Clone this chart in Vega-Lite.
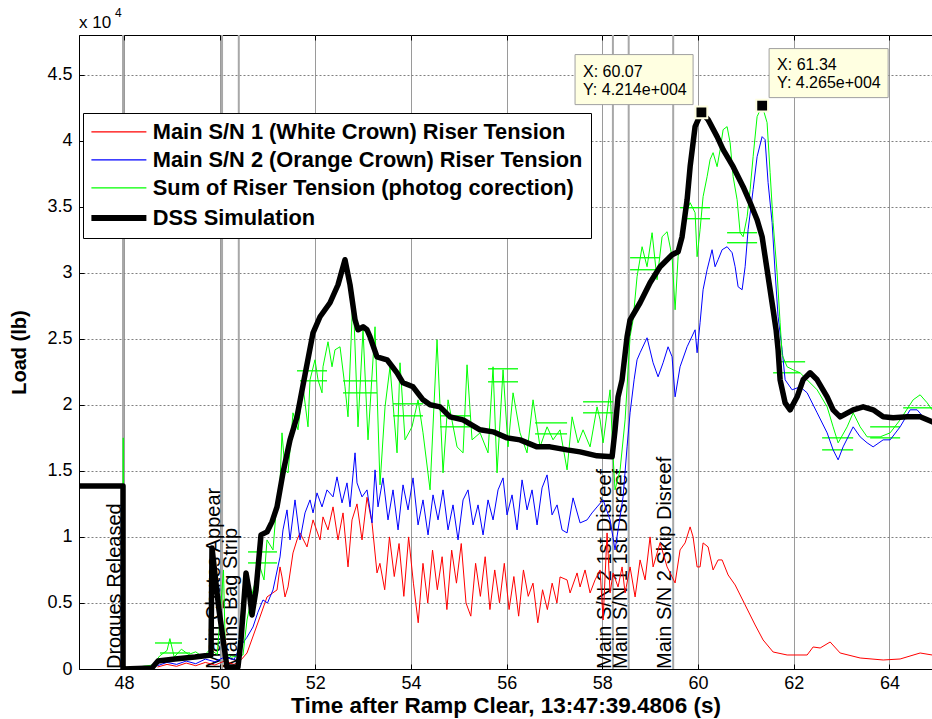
{
"$schema": "https://vega.github.io/schema/vega-lite/v6.json",
"width": 853, "height": 634,
"autosize": {"type": "none"},
"padding": {"left": 79, "top": 35, "right": 0, "bottom": 50},
"background": "white",
"config": {"view": {"stroke": "#000", "strokeWidth": 1}, "font": "Liberation Sans"},
"resolve": {"axis": {"x": "independent"}},
"datasets": {
"thin": [
{"s":"r","x":48.7,"y":150},{"s":"r","x":48.9,"y":350},{"s":"r","x":49.1,"y":200},{"s":"r","x":49.3,"y":450},{"s":"r","x":49.5,"y":250},{"s":"r","x":49.7,"y":500},{"s":"r","x":49.9,"y":300},{"s":"r","x":50.1,"y":600},{"s":"r","x":50.3,"y":350},{"s":"r","x":50.45,"y":700},
{"s":"r","x":50.572,"y":1212},{"s":"r","x":50.843,"y":3940},{"s":"r","x":50.99,"y":5455},{"s":"r","x":51.199,"y":5985},{"s":"r","x":51.262,"y":7728},{"s":"r","x":51.303,"y":6970},{"s":"r","x":51.366,"y":5455},{"s":"r","x":51.429,"y":6212},{"s":"r","x":51.533,"y":8788},{"s":"r","x":51.617,"y":9773},{"s":"r","x":51.68,"y":10303},{"s":"r","x":51.826,"y":9243},{"s":"r","x":51.952,"y":11288},{"s":"r","x":52.098,"y":9773},{"s":"r","x":52.16,"y":11516},{"s":"r","x":52.265,"y":10531},{"s":"r","x":52.37,"y":12273},{"s":"r","x":52.474,"y":9773},{"s":"r","x":52.579,"y":11819},{"s":"r","x":52.683,"y":7728},{"s":"r","x":52.767,"y":11288},{"s":"r","x":52.871,"y":12500},{"s":"r","x":52.976,"y":9773},{"s":"r","x":53.08,"y":13000},{"s":"r","x":53.185,"y":11061},{"s":"r","x":53.289,"y":7273},
{"s":"r","x":53.35,"y":8000},{"s":"r","x":53.45,"y":6000},{"s":"r","x":53.55,"y":10000},{"s":"r","x":53.65,"y":7000},{"s":"r","x":53.75,"y":9500},{"s":"r","x":53.85,"y":5500},{"s":"r","x":53.95,"y":10000},{"s":"r","x":54.05,"y":6500},{"s":"r","x":54.15,"y":3500},{"s":"r","x":54.25,"y":8000},{"s":"r","x":54.35,"y":5000},{"s":"r","x":54.45,"y":9000},{"s":"r","x":54.55,"y":6000},{"s":"r","x":54.65,"y":8500},{"s":"r","x":54.75,"y":4500},{"s":"r","x":54.85,"y":9000},{"s":"r","x":54.95,"y":6500},{"s":"r","x":55.05,"y":9500},{"s":"r","x":55.15,"y":5000},{"s":"r","x":55.25,"y":4000},{"s":"r","x":55.35,"y":8000},{"s":"r","x":55.45,"y":5500},{"s":"r","x":55.55,"y":8500},{"s":"r","x":55.65,"y":4500},{"s":"r","x":55.75,"y":7500},{"s":"r","x":55.85,"y":5000},{"s":"r","x":55.95,"y":8000},{"s":"r","x":56.05,"y":4500},{"s":"r","x":56.15,"y":7000},{"s":"r","x":56.25,"y":4000},{"s":"r","x":56.35,"y":7500},{"s":"r","x":56.45,"y":5500},{"s":"r","x":56.55,"y":6500},{"s":"r","x":56.65,"y":3500},{"s":"r","x":56.75,"y":6000},{"s":"r","x":56.85,"y":4500},{"s":"r","x":56.95,"y":6500},{"s":"r","x":57.05,"y":5000},
{"s":"r","x":57.115,"y":6970},{"s":"r","x":57.262,"y":6743},{"s":"r","x":57.325,"y":5758},{"s":"r","x":57.471,"y":7273},{"s":"r","x":57.534,"y":6212},{"s":"r","x":57.638,"y":7500},{"s":"r","x":57.743,"y":5758},{"s":"r","x":57.847,"y":6743},{"s":"r","x":57.952,"y":7500},{"s":"r","x":58.015,"y":3712},{"s":"r","x":58.098,"y":10303},{"s":"r","x":58.161,"y":5758},{"s":"r","x":58.224,"y":7273},{"s":"r","x":58.328,"y":6212},{"s":"r","x":58.412,"y":7728},{"s":"r","x":58.475,"y":5758},{"s":"r","x":58.579,"y":7728},{"s":"r","x":58.684,"y":5455},{"s":"r","x":58.788,"y":8258},{"s":"r","x":58.893,"y":6743},{"s":"r","x":58.997,"y":10000},{"s":"r","x":59.06,"y":7728},{"s":"r","x":59.206,"y":9546},{"s":"r","x":59.353,"y":7728},{"s":"r","x":59.52,"y":6515},{"s":"r","x":59.624,"y":9015},{"s":"r","x":59.729,"y":9546},{"s":"r","x":59.834,"y":10758},{"s":"r","x":59.896,"y":10000},{"s":"r","x":59.98,"y":7728},{"s":"r","x":60.042,"y":7728},{"s":"r","x":60.105,"y":9546},{"s":"r","x":60.21,"y":9243},{"s":"r","x":60.314,"y":7500},{"s":"r","x":60.419,"y":8258},{"s":"r","x":60.503,"y":8258},{"s":"r","x":60.628,"y":7121},{"s":"r","x":60.775,"y":6364},{"s":"r","x":60.984,"y":4849},{"s":"r","x":61.193,"y":3333},{"s":"r","x":61.36,"y":2197},{"s":"r","x":61.569,"y":1288},{"s":"r","x":61.862,"y":1061},{"s":"r","x":62.28,"y":1061},{"s":"r","x":62.405,"y":1667},{"s":"r","x":62.552,"y":1591},{"s":"r","x":62.761,"y":2045},{"s":"r","x":62.97,"y":1212},{"s":"r","x":63.388,"y":833},{"s":"r","x":63.869,"y":682},{"s":"r","x":64.224,"y":758},{"s":"r","x":64.642,"y":1212},{"s":"r","x":64.893,"y":1061},
{"s":"b","x":48.7,"y":250},{"s":"b","x":48.9,"y":500},{"s":"b","x":49.1,"y":350},{"s":"b","x":49.3,"y":600},{"s":"b","x":49.5,"y":400},{"s":"b","x":49.7,"y":750},{"s":"b","x":49.9,"y":550},{"s":"b","x":50.1,"y":900},{"s":"b","x":50.3,"y":700},{"s":"b","x":50.425,"y":1667},{"s":"b","x":50.57,"y":2400},{"s":"b","x":50.697,"y":3182},{"s":"b","x":50.8,"y":4300},{"s":"b","x":50.906,"y":5227},{"s":"b","x":51.0,"y":5000},{"s":"b","x":51.115,"y":5985},{"s":"b","x":51.262,"y":8485},{"s":"b","x":51.324,"y":10531},{"s":"b","x":51.408,"y":12046},{"s":"b","x":51.471,"y":9773},{"s":"b","x":51.575,"y":12803},{"s":"b","x":51.68,"y":9773},{"s":"b","x":51.784,"y":11819},{"s":"b","x":51.889,"y":12803},{"s":"b","x":51.952,"y":11819},{"s":"b","x":52.035,"y":13334},{"s":"b","x":52.14,"y":12273},{"s":"b","x":52.244,"y":13561},{"s":"b","x":52.37,"y":13031},{"s":"b","x":52.453,"y":14546},{"s":"b","x":52.558,"y":12576},{"s":"b","x":52.662,"y":14091},{"s":"b","x":52.725,"y":12273},{"s":"b","x":52.83,"y":16364},{"s":"b","x":52.871,"y":14091},{"s":"b","x":52.976,"y":13031},{"s":"b","x":53.08,"y":13561},{"s":"b","x":53.185,"y":11061},{"s":"b","x":53.248,"y":15076},{"s":"b","x":53.31,"y":12273},
{"s":"b","x":53.415,"y":14470},{"s":"b","x":53.519,"y":11288},{"s":"b","x":53.624,"y":13561},{"s":"b","x":53.729,"y":10531},{"s":"b","x":53.833,"y":13940},{"s":"b","x":53.938,"y":12046},{"s":"b","x":54.042,"y":14470},{"s":"b","x":54.147,"y":10909},{"s":"b","x":54.251,"y":12803},{"s":"b","x":54.356,"y":10152},{"s":"b","x":54.46,"y":13182},{"s":"b","x":54.565,"y":11288},{"s":"b","x":54.669,"y":13561},{"s":"b","x":54.774,"y":10531},{"s":"b","x":54.878,"y":12425},{"s":"b","x":54.983,"y":9773},{"s":"b","x":55.088,"y":12803},{"s":"b","x":55.192,"y":13561},{"s":"b","x":55.297,"y":10909},{"s":"b","x":55.401,"y":12425},{"s":"b","x":55.506,"y":10152},{"s":"b","x":55.61,"y":12803},{"s":"b","x":55.715,"y":11288},{"s":"b","x":55.819,"y":13561},{"s":"b","x":55.924,"y":14470},{"s":"b","x":56.007,"y":11667},{"s":"b","x":56.112,"y":13182},{"s":"b","x":56.217,"y":10531},{"s":"b","x":56.321,"y":14318},{"s":"b","x":56.426,"y":12046},{"s":"b","x":56.53,"y":13561},{"s":"b","x":56.635,"y":10909},{"s":"b","x":56.739,"y":13713},{"s":"b","x":56.844,"y":14697},{"s":"b","x":56.948,"y":11667},{"s":"b","x":57.053,"y":12425},{"s":"b","x":57.157,"y":10531},{"s":"b","x":57.262,"y":10303},{"s":"b","x":57.387,"y":12955},{"s":"b","x":57.534,"y":11061},{"s":"b","x":57.68,"y":11288},{"s":"b","x":57.784,"y":11819},{"s":"b","x":57.889,"y":12273},{"s":"b","x":58.015,"y":12803},{"s":"b","x":58.161,"y":11288},{"s":"b","x":58.265,"y":9015},{"s":"b","x":58.328,"y":10531},{"s":"b","x":58.433,"y":13031},{"s":"b","x":58.516,"y":16819},{"s":"b","x":58.579,"y":19395},{"s":"b","x":58.663,"y":21895},{"s":"b","x":58.725,"y":23410},{"s":"b","x":58.788,"y":23940},{"s":"b","x":58.934,"y":25077},{"s":"b","x":59.06,"y":23183},{"s":"b","x":59.164,"y":22122},{"s":"b","x":59.269,"y":23183},{"s":"b","x":59.373,"y":24395},{"s":"b","x":59.457,"y":23637},{"s":"b","x":59.52,"y":20607},{"s":"b","x":59.624,"y":22880},{"s":"b","x":59.771,"y":24395},{"s":"b","x":59.938,"y":25682},{"s":"b","x":59.98,"y":23940},{"s":"b","x":60.042,"y":26213},{"s":"b","x":60.105,"y":28713},{"s":"b","x":60.189,"y":30228},{"s":"b","x":60.293,"y":31743},{"s":"b","x":60.356,"y":30456},{"s":"b","x":60.419,"y":30986},{"s":"b","x":60.503,"y":31743},{"s":"b","x":60.607,"y":31971},{"s":"b","x":60.712,"y":31516},{"s":"b","x":60.775,"y":30456},{"s":"b","x":60.837,"y":28940},{"s":"b","x":60.921,"y":28713},{"s":"b","x":60.984,"y":30456},{"s":"b","x":61.046,"y":33259},{"s":"b","x":61.151,"y":36289},{"s":"b","x":61.234,"y":38789},{"s":"b","x":61.339,"y":40304},{"s":"b","x":61.401,"y":40077},{"s":"b","x":61.464,"y":36819},{"s":"b","x":61.548,"y":33789},{"s":"b","x":61.611,"y":30001},{"s":"b","x":61.673,"y":26668},{"s":"b","x":61.757,"y":24167},{"s":"b","x":61.82,"y":21895},{"s":"b","x":61.966,"y":21137},{"s":"b","x":62.133,"y":21364},{"s":"b","x":62.28,"y":20910},{"s":"b","x":62.489,"y":19395},{"s":"b","x":62.698,"y":17879},{"s":"b","x":62.823,"y":16591},{"s":"b","x":62.928,"y":15834},{"s":"b","x":63.032,"y":16819},{"s":"b","x":63.242,"y":18334},{"s":"b","x":63.388,"y":17576},{"s":"b","x":63.534,"y":17122},{"s":"b","x":63.66,"y":16819},{"s":"b","x":63.869,"y":17349},{"s":"b","x":64.015,"y":17349},{"s":"b","x":64.224,"y":18334},{"s":"b","x":64.433,"y":19622},{"s":"b","x":64.579,"y":19622},{"s":"b","x":64.705,"y":19092},{"s":"b","x":64.893,"y":18637},
{"s":"g","x":47.975,"y":0},{"s":"g","x":47.985,"y":17500},{"s":"g","x":47.995,"y":0},{"s":"g","x":48.6,"y":300},{"s":"g","x":48.75,"y":1000},{"s":"g","x":48.9,"y":1400},{"s":"g","x":48.96,"y":2300},{"s":"g","x":49.05,"y":900},{"s":"g","x":49.2,"y":1500},{"s":"g","x":49.35,"y":1100},{"s":"g","x":49.5,"y":1300},{"s":"g","x":49.65,"y":900},{"s":"g","x":49.8,"y":1500},{"s":"g","x":49.95,"y":1100},{"s":"g","x":50.08,"y":7500},{"s":"g","x":50.12,"y":1200},{"s":"g","x":50.25,"y":900},{"s":"g","x":50.38,"y":1000},{"s":"g","x":50.488,"y":1061},{"s":"g","x":50.572,"y":3712},{"s":"g","x":50.697,"y":5985},{"s":"g","x":50.843,"y":7728},{"s":"g","x":50.927,"y":6743},{"s":"g","x":50.99,"y":9773},{"s":"g","x":51.115,"y":9015},{"s":"g","x":51.199,"y":12803},{"s":"g","x":51.262,"y":14091},{"s":"g","x":51.303,"y":17879},{"s":"g","x":51.366,"y":15076},{"s":"g","x":51.429,"y":14849},{"s":"g","x":51.471,"y":16591},{"s":"g","x":51.533,"y":19395},{"s":"g","x":51.638,"y":18107},{"s":"g","x":51.742,"y":21364},{"s":"g","x":51.847,"y":18334},{"s":"g","x":51.889,"y":21895},{"s":"g","x":51.993,"y":23410},{"s":"g","x":52.056,"y":21895},{"s":"g","x":52.14,"y":20910},{"s":"g","x":52.16,"y":22880},{"s":"g","x":52.265,"y":24774},{"s":"g","x":52.349,"y":22880},{"s":"g","x":52.411,"y":24167},{"s":"g","x":52.516,"y":24395},{"s":"g","x":52.62,"y":21364},{"s":"g","x":52.683,"y":19092},{"s":"g","x":52.788,"y":28486},{"s":"g","x":52.892,"y":18334},{"s":"g","x":52.997,"y":25682},{"s":"g","x":53.101,"y":17349},{"s":"g","x":53.248,"y":25910},{"s":"g","x":53.352,"y":13940},{"s":"g","x":53.457,"y":19849},{"s":"g","x":53.561,"y":22880},{"s":"g","x":53.708,"y":16364},{"s":"g","x":53.77,"y":23183},{"s":"g","x":53.875,"y":17349},{"s":"g","x":54.021,"y":18334},{"s":"g","x":54.147,"y":20379},{"s":"g","x":54.251,"y":17879},{"s":"g","x":54.398,"y":13561},{"s":"g","x":54.544,"y":24925},{"s":"g","x":54.669,"y":14849},{"s":"g","x":54.774,"y":20379},{"s":"g","x":54.962,"y":16819},{"s":"g","x":55.088,"y":16364},{"s":"g","x":55.171,"y":23031},{"s":"g","x":55.276,"y":17349},{"s":"g","x":55.443,"y":17879},{"s":"g","x":55.61,"y":16364},{"s":"g","x":55.715,"y":22880},{"s":"g","x":55.798,"y":14849},{"s":"g","x":55.924,"y":22652},{"s":"g","x":56.028,"y":16819},{"s":"g","x":56.133,"y":20910},{"s":"g","x":56.279,"y":17879},{"s":"g","x":56.425,"y":16364},{"s":"g","x":56.551,"y":20379},{"s":"g","x":56.697,"y":16819},{"s":"g","x":56.844,"y":18334},{"s":"g","x":56.969,"y":17349},{"s":"g","x":57.115,"y":18107},{"s":"g","x":57.262,"y":15076},{"s":"g","x":57.367,"y":19092},{"s":"g","x":57.492,"y":17122},{"s":"g","x":57.596,"y":18107},{"s":"g","x":57.743,"y":16819},{"s":"g","x":57.889,"y":19849},{"s":"g","x":57.952,"y":18864},{"s":"g","x":58.015,"y":17122},{"s":"g","x":58.161,"y":21137},{"s":"g","x":58.224,"y":16061},{"s":"g","x":58.265,"y":13561},{"s":"g","x":58.37,"y":15076},{"s":"g","x":58.475,"y":18864},{"s":"g","x":58.579,"y":25152},{"s":"g","x":58.642,"y":26440},{"s":"g","x":58.725,"y":29698},{"s":"g","x":58.83,"y":31971},{"s":"g","x":58.934,"y":30456},{"s":"g","x":59.039,"y":33031},{"s":"g","x":59.143,"y":29471},{"s":"g","x":59.248,"y":32728},{"s":"g","x":59.353,"y":33107},{"s":"g","x":59.457,"y":31213},{"s":"g","x":59.52,"y":27198},{"s":"g","x":59.583,"y":31213},{"s":"g","x":59.687,"y":34016},{"s":"g","x":59.834,"y":35304},{"s":"g","x":59.938,"y":34546},{"s":"g","x":59.98,"y":31213},{"s":"g","x":60.042,"y":33259},{"s":"g","x":60.105,"y":35759},{"s":"g","x":60.189,"y":37274},{"s":"g","x":60.251,"y":38562},{"s":"g","x":60.314,"y":39092},{"s":"g","x":60.398,"y":38032},{"s":"g","x":60.461,"y":39319},{"s":"g","x":60.524,"y":40834},{"s":"g","x":60.607,"y":41062},{"s":"g","x":60.67,"y":39850},{"s":"g","x":60.733,"y":37274},{"s":"g","x":60.816,"y":35531},{"s":"g","x":60.879,"y":33031},{"s":"g","x":60.942,"y":32728},{"s":"g","x":61.026,"y":34244},{"s":"g","x":61.088,"y":36289},{"s":"g","x":61.151,"y":38789},{"s":"g","x":61.234,"y":41820},{"s":"g","x":61.34,"y":42650},{"s":"g","x":61.443,"y":41365},{"s":"g","x":61.506,"y":37577},{"s":"g","x":61.569,"y":33789},{"s":"g","x":61.652,"y":30001},{"s":"g","x":61.715,"y":26213},{"s":"g","x":61.757,"y":23789},{"s":"g","x":61.862,"y":22880},{"s":"g","x":61.987,"y":22652},{"s":"g","x":62.133,"y":22425},{"s":"g","x":62.28,"y":21895},{"s":"g","x":62.489,"y":21137},{"s":"g","x":62.698,"y":19849},{"s":"g","x":62.823,"y":18334},{"s":"g","x":62.928,"y":17122},{"s":"g","x":63.116,"y":18334},{"s":"g","x":63.242,"y":19395},{"s":"g","x":63.388,"y":18334},{"s":"g","x":63.534,"y":17576},{"s":"g","x":63.806,"y":17576},{"s":"g","x":64.015,"y":17879},{"s":"g","x":64.224,"y":18864},{"s":"g","x":64.496,"y":20379},{"s":"g","x":64.642,"y":20758},{"s":"g","x":64.789,"y":20152},{"s":"g","x":64.893,"y":19622}
],
"dss": [
{"s":"k","x":47.06,"y":13860},{"s":"k","x":47.98,"y":13860},{"s":"k","x":47.981,"y":0},{"s":"k","x":48.585,"y":80},{"s":"k","x":48.711,"y":606},{"s":"k","x":49.066,"y":758},{"s":"k","x":49.484,"y":909},{"s":"k","x":49.819,"y":1061},{"s":"k","x":49.84,"y":9167},{"s":"k","x":49.986,"y":4470},{"s":"k","x":50.153,"y":150},{"s":"k","x":50.383,"y":150},{"s":"k","x":50.446,"y":2197},{"s":"k","x":50.551,"y":7273},{"s":"k","x":50.613,"y":5985},{"s":"k","x":50.676,"y":4091},{"s":"k","x":50.76,"y":5985},{"s":"k","x":50.864,"y":10152},{"s":"k","x":50.99,"y":10379},{"s":"k","x":51.094,"y":11137},{"s":"k","x":51.199,"y":12273},{"s":"k","x":51.324,"y":14849},{"s":"k","x":51.471,"y":17349},{"s":"k","x":51.617,"y":19092},{"s":"k","x":51.784,"y":22273},{"s":"k","x":51.952,"y":25455},{"s":"k","x":52.098,"y":26668},{"s":"k","x":52.307,"y":27728},{"s":"k","x":52.474,"y":29092},{"s":"k","x":52.62,"y":30986},{"s":"k","x":52.725,"y":29092},{"s":"k","x":52.83,"y":26440},{"s":"k","x":52.892,"y":25682},{"s":"k","x":52.997,"y":25910},{"s":"k","x":53.08,"y":25682},{"s":"k","x":53.143,"y":25152},{"s":"k","x":53.289,"y":23637},{"s":"k","x":53.499,"y":23410},{"s":"k","x":53.708,"y":22425},{"s":"k","x":53.833,"y":21667},{"s":"k","x":54.042,"y":21364},{"s":"k","x":54.251,"y":20379},{"s":"k","x":54.398,"y":20001},{"s":"k","x":54.607,"y":19849},{"s":"k","x":54.816,"y":19092},{"s":"k","x":55.088,"y":18864},{"s":"k","x":55.443,"y":18107},{"s":"k","x":55.715,"y":17955},{"s":"k","x":56.007,"y":17500},{"s":"k","x":56.279,"y":17349},{"s":"k","x":56.635,"y":16819},{"s":"k","x":56.906,"y":16819},{"s":"k","x":57.262,"y":16591},{"s":"k","x":57.534,"y":16440},{"s":"k","x":57.889,"y":16137},{"s":"k","x":58.203,"y":16061},{"s":"k","x":58.265,"y":18107},{"s":"k","x":58.328,"y":20607},{"s":"k","x":58.412,"y":21895},{"s":"k","x":58.516,"y":25152},{"s":"k","x":58.579,"y":26440},{"s":"k","x":58.788,"y":27728},{"s":"k","x":58.997,"y":29243},{"s":"k","x":59.206,"y":30456},{"s":"k","x":59.457,"y":31365},{"s":"k","x":59.583,"y":31592},{"s":"k","x":59.666,"y":32728},{"s":"k","x":59.771,"y":35531},{"s":"k","x":59.834,"y":38032},{"s":"k","x":59.938,"y":41062},{"s":"k","x":60.07,"y":42140},{"s":"k","x":60.21,"y":41592},{"s":"k","x":60.398,"y":40304},{"s":"k","x":60.524,"y":39319},{"s":"k","x":60.733,"y":38032},{"s":"k","x":60.942,"y":36516},{"s":"k","x":61.088,"y":35304},{"s":"k","x":61.234,"y":34016},{"s":"k","x":61.339,"y":32728},{"s":"k","x":61.443,"y":30228},{"s":"k","x":61.506,"y":28713},{"s":"k","x":61.569,"y":27198},{"s":"k","x":61.631,"y":25682},{"s":"k","x":61.673,"y":24167},{"s":"k","x":61.715,"y":21895},{"s":"k","x":61.82,"y":20152},{"s":"k","x":61.924,"y":19622},{"s":"k","x":62.071,"y":20607},{"s":"k","x":62.196,"y":21895},{"s":"k","x":62.342,"y":22425},{"s":"k","x":62.489,"y":21895},{"s":"k","x":62.698,"y":20607},{"s":"k","x":62.823,"y":19622},{"s":"k","x":62.97,"y":19092},{"s":"k","x":63.242,"y":19622},{"s":"k","x":63.451,"y":19849},{"s":"k","x":63.66,"y":19622},{"s":"k","x":63.869,"y":19092},{"s":"k","x":64.078,"y":19016},{"s":"k","x":64.37,"y":19092},{"s":"k","x":64.642,"y":19092},{"s":"k","x":64.893,"y":18713}
],
"evt": [
{"x":47.98,"y":0,"label":"Drogues Released"},{"x":50.05,"y":0,"label":"Main Chutes Appear"},{"x":50.40,"y":0,"label":"Mains Bag Strip"},{"x":58.22,"y":0,"label":"Main S/N 2 1st Disreef"},{"x":58.55,"y":0,"label":"Main S/N 1 1st Disreef"},{"x":59.48,"y":0,"label":"Main S/N 2 Skip Disreef"}
],
"photog": [
{"x":48.648,"x2":49.213,"y":1970},{"x":48.753,"x2":49.38,"y":1212},{"x":50.593,"x2":51.199,"y":8864},{"x":50.593,"x2":51.199,"y":8031},{"x":51.617,"x2":52.244,"y":22576},{"x":51.68,"x2":52.244,"y":21819},{"x":52.579,"x2":53.289,"y":21819},{"x":52.579,"x2":53.289,"y":20910},{"x":53.624,"x2":54.251,"y":20076},{"x":53.624,"x2":54.251,"y":19167},{"x":54.607,"x2":55.234,"y":19167},{"x":54.607,"x2":55.234,"y":18334},{"x":55.61,"x2":56.237,"y":22728},{"x":55.61,"x2":56.237,"y":21743},{"x":56.593,"x2":57.262,"y":18637},{"x":56.593,"x2":57.262,"y":17804},{"x":57.596,"x2":58.224,"y":20228},{"x":57.596,"x2":58.224,"y":19395},{"x":58.579,"x2":59.206,"y":31137},{"x":58.579,"x2":59.143,"y":30228},{"x":59.625,"x2":60.251,"y":34925},{"x":59.771,"x2":60.251,"y":34092},{"x":60.607,"x2":61.234,"y":33031},{"x":60.607,"x2":61.234,"y":32274},{"x":61.715,"x2":62.238,"y":23259},{"x":61.569,"x2":62.133,"y":22425},{"x":62.593,"x2":63.242,"y":17500},{"x":62.593,"x2":63.242,"y":16591},{"x":63.597,"x2":64.224,"y":18334},{"x":63.597,"x2":64.224,"y":17500},{"x":64.287,"x2":64.893,"y":19773}
],
"tips": [{"x":60.07,"y":42140},{"x":61.34,"y":42650}],
"boxes": [{"x":57.429,"x2":59.896,"y":46517,"y2":42729},{"x":61.485,"x2":63.973,"y":46971,"y2":43259}],
"boxtext": [{"x":57.596,"y":45229,"t":"X: 60.07"},{"x":57.596,"y":43865,"t":"Y: 4.214e+004"},{"x":61.652,"y":45759,"t":"X: 61.34"},{"x":61.652,"y":44395,"t":"Y: 4.265e+004"}],
"expo": [{"x":47.06,"y":48000,"t":"x 10","e":"4"}]
},
"encoding": {
"x": {"field": "x", "type": "quantitative", "scale": {"domain": [47.06, 64.89], "nice": false, "zero": false}, "axis": null},
"y": {"field": "y", "type": "quantitative", "scale": {"domain": [0, 48000], "nice": false, "zero": false},
 "axis": {"values": [0,5000,10000,15000,20000,25000,30000,35000,40000,45000], "labelExpr": "datum.value / 10000 + ''", "title": "Load (lb)", "titleFont": "Liberation Sans", "titleFontSize": 20, "titleFontWeight": "bold", "titleColor": "#000", "titlePadding": 17,
  "labelFont": "Liberation Sans", "labelFontSize": 18, "labelColor": "#000", "labelPadding": 12, "labelFlush": false, "labelOverlap": false,
  "tickSize": -5, "tickColor": "#000", "domainColor": "#000", "grid": true, "gridColor": "#808080", "gridDash": [2, 2], "gridWidth": 1}}
},
"layer": [
{"data": {"name": "evt"}, "mark": {"type": "rule", "color": "#a8a8a8", "strokeWidth": 2},
 "encoding": {
  "x": {"field": "x", "type": "quantitative", "scale": {"domain": [47.06, 64.89], "nice": false, "zero": false},
   "axis": {"orient": "bottom", "values": [48,50,52,54,56,58,60,62,64], "title": "Time after Ramp Clear, 13:47:39.4806 (s)", "titleFont": "Liberation Sans", "titleFontSize": 22.5, "titleFontWeight": "bold", "titleColor": "#000", "titlePadding": 2,
    "labelFont": "Liberation Sans", "labelFontSize": 18, "labelColor": "#000", "labelPadding": 10, "labelFlush": false, "labelOverlap": false,
    "tickSize": -5, "tickColor": "#000", "domainColor": "#000", "grid": true, "gridColor": "#9a9a9a", "gridWidth": 1}},
  "y2": {"datum": 48000}}},
{"data": {"name": "evt"}, "mark": {"type": "text", "angle": 270, "align": "left", "baseline": "alphabetic", "dy": -2, "fontSize": 20, "font": "Liberation Sans", "color": "#000"},
 "encoding": {
  "x": {"field": "x", "type": "quantitative",
   "axis": {"orient": "top", "values": [48,50,52,54,56,58,60,62,64], "title": null, "labels": false, "tickSize": -5, "tickColor": "#000", "domain": false, "grid": false}},
  "text": {"field": "label"}}},
{"data": {"name": "photog"}, "mark": {"type": "rule", "color": "#00ff00", "strokeWidth": 1.3, "clip": true},
 "encoding": {"x2": {"field": "x2"}}},
{"data": {"name": "thin"}, "mark": {"type": "line", "clip": true, "strokeWidth": 1, "strokeJoin": "round"},
 "encoding": {
  "order": {"value": null},
  "color": {"field": "s", "type": "nominal", "scale": {"domain": ["r","b","g","k"], "range": ["#ff0000","#0000ff","#00ff00","#000000"]},
   "legend": {"title": null, "orient": "none", "legendX": 4, "legendY": 78, "fillColor": "white", "strokeColor": "#000", "padding": 8,
    "labelFont": "Liberation Sans", "labelFontSize": 21.8, "labelFontWeight": "bold", "labelColor": "#000", "labelLimit": 700, "labelOffset": 23,
    "symbolType": "M-3,0H3", "symbolSize": 336, "symbolOffset": 17, "rowPadding": 5,
    "symbolStrokeWidth": {"expr": "datum.value == 'k' ? 6 : 1.2"},
    "labelExpr": "datum.label == 'r' ? 'Main S/N 1 (White Crown) Riser Tension' : datum.label == 'b' ? 'Main S/N 2 (Orange Crown) Riser Tension' : datum.label == 'g' ? 'Sum of Riser Tension (photog corection)' : 'DSS Simulation'"}}
 }},
{"data": {"name": "dss"}, "mark": {"type": "line", "clip": true, "strokeWidth": 5.5, "strokeJoin": "round", "strokeCap": "round"},
 "encoding": {"order": {"value": null}, "color": {"field": "s", "type": "nominal"}}},
{"data": {"name": "boxes"}, "mark": {"type": "rect", "fill": "#ffffe1", "stroke": "#a0a0a0", "strokeWidth": 1},
 "encoding": {"x2": {"field": "x2"}, "y2": {"field": "y2"}}},
{"data": {"name": "boxtext"}, "mark": {"type": "text", "align": "left", "baseline": "middle", "fontSize": 16, "font": "Liberation Sans", "color": "#000"},
 "encoding": {"text": {"field": "t"}}},
{"data": {"name": "tips"}, "mark": {"type": "point", "shape": "square", "filled": true, "size": 140, "fill": "#000", "stroke": "#ffffe1", "strokeWidth": 2, "opacity": 1}},
{"data": {"name": "expo"}, "mark": {"type": "text", "align": "left", "baseline": "alphabetic", "dy": -7, "fontSize": 17, "font": "Liberation Sans", "color": "#000"},
 "encoding": {"text": {"field": "t"}}},
{"data": {"name": "expo"}, "mark": {"type": "text", "align": "left", "baseline": "alphabetic", "dx": 36, "dy": -18, "fontSize": 12, "font": "Liberation Sans", "color": "#000"},
 "encoding": {"text": {"field": "e"}}}
]
}
